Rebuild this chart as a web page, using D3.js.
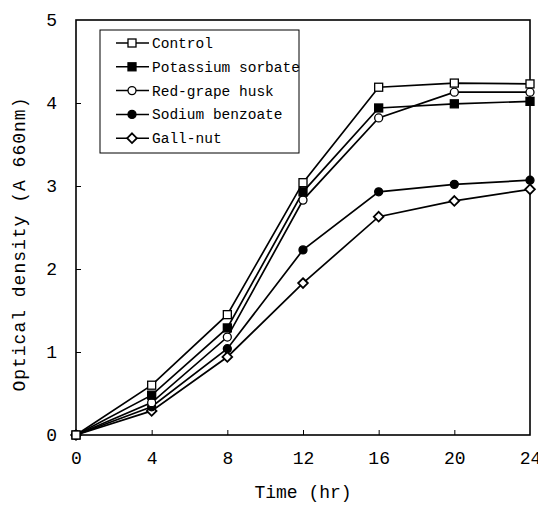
<!DOCTYPE html>
<html>
<head>
<meta charset="utf-8">
<script src="https://cdn.jsdelivr.net/npm/d3@7"></script>
<style>
  body { margin: 0; background: #fff; }
  svg { display: block; }
  text { font-family: "Liberation Mono", "DejaVu Sans Mono", monospace; fill: #000; }
</style>
</head>
<body>
<div id="chart"></div>
<script>
const W = 538, H = 510;
const MARGIN = { top: 20, right: 8, bottom: 75, left: 76 };

const hours = [0, 4, 8, 12, 16, 20, 24];
const xTicks = [0, 4, 8, 12, 16, 20, 24];
const yTicks = [0, 1, 2, 3, 4, 5];

const seriesNames = ['Control', 'Potassium sorbate', 'Red-grape husk', 'Sodium benzoate', 'Gall-nut'];
const control = [0, 0.60, 1.45, 3.04, 4.19, 4.24, 4.23];
const potassiumSorbate = [0, 0.48, 1.29, 2.93, 3.94, 3.99, 4.02];
const redGrapeHusk = [0, 0.39, 1.18, 2.83, 3.82, 4.13, 4.13];
const sodiumBenzoate = [0, 0.34, 1.04, 2.23, 2.93, 3.02, 3.07];
const gallNut = [0, 0.29, 0.94, 1.83, 2.63, 2.82, 2.96];
const seriesValues = [control, potassiumSorbate, redGrapeHusk, sodiumBenzoate, gallNut];
const markerKinds = ['square-open', 'square-filled', 'circle-open', 'circle-filled', 'diamond-open'];

const svg = d3.select('#chart').append('svg')
  .attr('width', W).attr('height', H);

const x = d3.scaleLinear().domain([0, 24]).range([MARGIN.left, W - MARGIN.right]);
const y = d3.scaleLinear().domain([0, 5]).range([H - MARGIN.bottom, MARGIN.top]);

// frame
svg.append('rect')
  .attr('x', x(0)).attr('y', y(5))
  .attr('width', x(24) - x(0)).attr('height', y(0) - y(5))
  .attr('fill', 'none').attr('stroke', '#000').attr('stroke-width', 1.6);

// axes with inward ticks
const xAxis = svg.append('g')
  .attr('transform', `translate(0,${y(0)})`)
  .call(d3.axisBottom(x).tickValues(xTicks).tickFormat(d3.format('d'))
    .tickSizeInner(-5).tickSizeOuter(0).tickPadding(16));
const yAxis = svg.append('g')
  .attr('transform', `translate(${x(0)},0)`)
  .call(d3.axisLeft(y).tickValues(yTicks).tickFormat(d3.format('d'))
    .tickSizeInner(-5).tickSizeOuter(0).tickPadding(19));
[xAxis, yAxis].forEach(g => {
  g.select('.domain').remove();
  g.selectAll('line').attr('stroke', '#000').attr('stroke-width', 1);
  g.selectAll('text').attr('font-size', 18).attr('font-family', '"Liberation Mono", monospace').attr('fill', '#000');
});
yAxis.selectAll('.tick').filter(d => d === 0 || d === 5).select('line').remove();
xAxis.selectAll('.tick').filter(d => d === 0 || d === 24).select('line').remove();

// axis titles
svg.append('text')
  .attr('x', (x(0) + x(24)) / 2).attr('y', 498)
  .attr('text-anchor', 'middle').attr('font-size', 18)
  .text('Time (hr)');
svg.append('text')
  .attr('transform', `translate(25,${y(2.3)}) rotate(-90)`)
  .attr('text-anchor', 'middle').attr('font-size', 18).attr('letter-spacing', 1)
  .text('Optical density (A 660nm)');

function drawMarker(g, kind, cx, cy) {
  const s = 4;
  if (kind.startsWith('square')) {
    g.append('rect').attr('x', cx - s).attr('y', cy - s).attr('width', 2 * s).attr('height', 2 * s)
      .attr('fill', kind.endsWith('filled') ? '#000' : '#fff').attr('stroke', '#000').attr('stroke-width', 1.3);
  } else if (kind.startsWith('circle')) {
    g.append('circle').attr('cx', cx).attr('cy', cy).attr('r', s)
      .attr('fill', kind.endsWith('filled') ? '#000' : '#fff').attr('stroke', '#000').attr('stroke-width', 1.3);
  } else {
    g.append('path').attr('d', d3.symbol(d3.symbolDiamond2, 60)())
      .attr('transform', `translate(${cx},${cy})`)
      .attr('fill', '#fff').attr('stroke', '#000').attr('stroke-width', 1.8);
  }
}

const line = d3.line().x((d, i) => x(hours[i])).y(d => y(d));

// lines first, then markers (gall-nut at the back)
for (let si = seriesValues.length - 1; si >= 0; si--) {
  svg.append('path').datum(seriesValues[si])
    .attr('fill', 'none').attr('stroke', '#000').attr('stroke-width', 1.7)
    .attr('d', line);
}
for (let si = seriesValues.length - 1; si >= 0; si--) {
  const g = svg.append('g');
  seriesValues[si].forEach((v, i) => drawMarker(g, markerKinds[si], x(hours[i]), y(v)));
}

// legend
const legend = svg.append('g');
legend.append('rect')
  .attr('x', 100).attr('y', 30).attr('width', 199).attr('height', 123)
  .attr('fill', '#fff').attr('stroke', '#000').attr('stroke-width', 1);
seriesNames.forEach((name, i) => {
  const ly = 43 + i * 23.8;
  legend.append('line').attr('x1', 116).attr('x2', 149).attr('y1', ly).attr('y2', ly)
    .attr('stroke', '#000').attr('stroke-width', 1.5);
  drawMarker(legend, markerKinds[i], 132, ly);
  legend.append('text').attr('x', 152).attr('y', ly + 5)
    .attr('font-size', 14.5).text(name);
});
</script>
</body>
</html>
